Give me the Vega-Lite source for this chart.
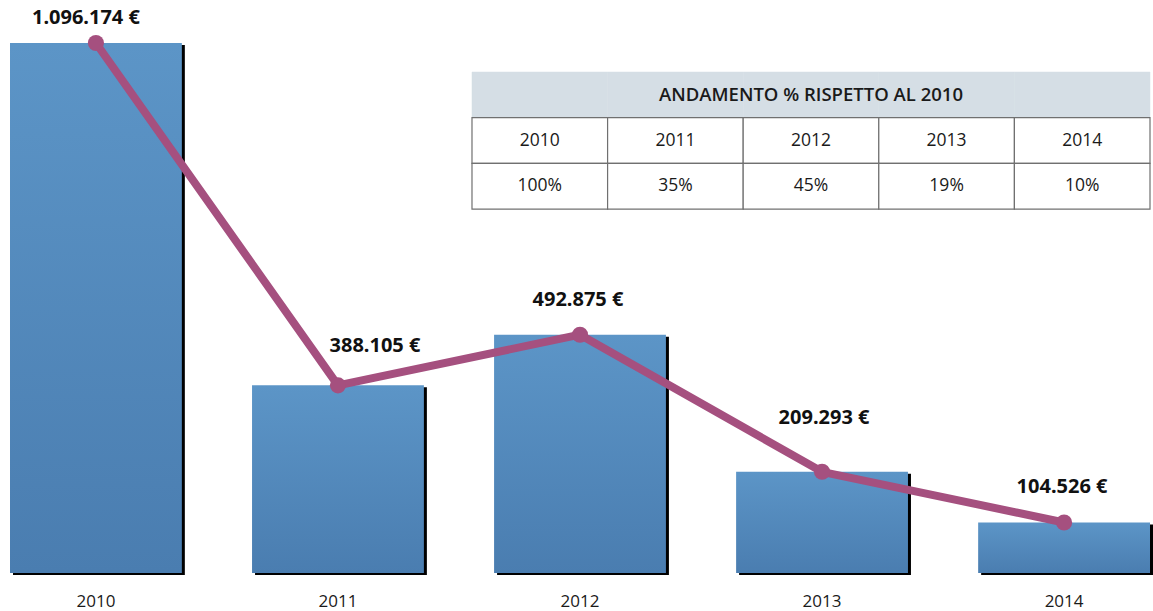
{
  "$schema": "https://vega.github.io/schema/vega-lite/v6.json",
  "width": 1140,
  "height": 530,
  "autosize": {"type": "none"},
  "padding": {"left": 10, "top": 43, "right": 3, "bottom": 38},
  "background": "white",
  "config": {"view": {"stroke": null}},
  "datasets": {
    "main": [
      {"year": "2010", "value": 1096174, "label": "1.096.174 €"},
      {"year": "2011", "value": 388105, "label": "388.105 €"},
      {"year": "2012", "value": 492875, "label": "492.875 €"},
      {"year": "2013", "value": 209293, "label": "209.293 €"},
      {"year": "2014", "value": 104526, "label": "104.526 €"}
    ],
    "table": [
      {"row": "h", "year": "2010", "text": ""},
      {"row": "h", "year": "2011", "text": ""},
      {"row": "h", "year": "2012", "text": "ANDAMENTO % RISPETTO AL 2010"},
      {"row": "h", "year": "2013", "text": ""},
      {"row": "h", "year": "2014", "text": ""},
      {"row": "y", "year": "2010", "text": "2010"},
      {"row": "y", "year": "2011", "text": "2011"},
      {"row": "y", "year": "2012", "text": "2012"},
      {"row": "y", "year": "2013", "text": "2013"},
      {"row": "y", "year": "2014", "text": "2014"},
      {"row": "p", "year": "2010", "text": "100%"},
      {"row": "p", "year": "2011", "text": "35%"},
      {"row": "p", "year": "2012", "text": "45%"},
      {"row": "p", "year": "2013", "text": "19%"},
      {"row": "p", "year": "2014", "text": "10%"}
    ]
  },
  "layer": [
    {
      "data": {"name": "main"},
      "encoding": {
        "x": {
          "field": "year", "type": "nominal",
          "scale": {"paddingInner": 0.29, "paddingOuter": 0},
          "axis": {"domain": false, "ticks": false, "labelAngle": 0, "labelPadding": 20, "labelFontSize": 17, "labelFont": "Open Sans", "labelColor": "#1a1a1a", "title": null}
        },
        "y": {
          "field": "value", "type": "quantitative",
          "scale": {"domain": [0, 1096174], "nice": false},
          "axis": null
        }
      },
      "layer": [
        {"mark": {"type": "bar", "color": "#000000", "xOffset": 3, "yOffset": 2}},
        {"mark": {"type": "bar", "color": {"gradient": "linear", "x1": 0, "y1": 0, "x2": 0, "y2": 1, "stops": [{"offset": 0, "color": "#5C95C7"}, {"offset": 1, "color": "#4A7DB0"}]}}},
        {"mark": {"type": "line", "color": "#A5507F", "strokeWidth": 8, "strokeCap": "round", "strokeJoin": "round"}},
        {"mark": {"type": "point", "filled": true, "size": 260, "color": "#A5507F", "opacity": 1}},
        {"transform": [{"filter": "datum.year === '2010'"}], "mark": {"type": "text", "dy": -25, "dx": -10, "fontWeight": "bold", "fontSize": 20, "font": "Noto Sans", "color": "#111"}, "encoding": {"text": {"field": "label"}}},
        {"transform": [{"filter": "datum.year === '2011'"}], "mark": {"type": "text", "dy": -39, "dx": 37, "fontWeight": "bold", "fontSize": 20, "font": "Noto Sans", "color": "#111"}, "encoding": {"text": {"field": "label"}}},
        {"transform": [{"filter": "datum.year === '2013'"}], "mark": {"type": "text", "dy": -54, "dx": 2, "fontWeight": "bold", "fontSize": 20, "font": "Noto Sans", "color": "#111"}, "encoding": {"text": {"field": "label"}}},
        {"transform": [{"filter": "datum.year === '2012' || datum.year === '2014'"}], "mark": {"type": "text", "dy": -35, "dx": -2, "fontWeight": "bold", "fontSize": 20, "font": "Noto Sans", "color": "#111"}, "encoding": {"text": {"field": "label"}}}
      ]
    },
    {
      "data": {"name": "table"},
      "encoding": {
        "x": {"field": "year", "type": "nominal", "scale": {"domain": ["d1", "d2", "d3", "2010", "2011", "2012", "2013", "2014"], "paddingInner": 0, "paddingOuter": 0.2035, "align": 1}, "axis": null},
        "y": {"field": "row", "type": "nominal", "scale": {"domain": ["h", "y", "p", "e1", "e2", "e3", "e4", "e5", "e6", "e7"], "paddingInner": 0, "paddingOuter": 0.8, "align": 0.397}, "axis": null}
      },
      "layer": [
        {"transform": [{"filter": "datum.row === 'h'"}], "mark": {"type": "rect", "fill": "#D5DEE5", "stroke": "#D5DEE5", "strokeWidth": 0.5}},
        {"transform": [{"filter": "datum.row !== 'h'"}], "mark": {"type": "rect", "fill": "#FFFFFF", "stroke": "#707070", "strokeWidth": 1.2}},
        {"transform": [{"filter": "datum.row === 'h'"}], "mark": {"type": "text", "fontSize": 18.5, "fontWeight": 600, "font": "Open Sans", "color": "#1a1a1a"}, "encoding": {"text": {"field": "text"}}},
        {"transform": [{"filter": "datum.row !== 'h'"}], "mark": {"type": "text", "fontSize": 17.5, "font": "Open Sans", "color": "#1a1a1a"}, "encoding": {"text": {"field": "text"}}}
      ]
    }
  ],
  "resolve": {"scale": {"x": "independent", "y": "independent"}}
}
